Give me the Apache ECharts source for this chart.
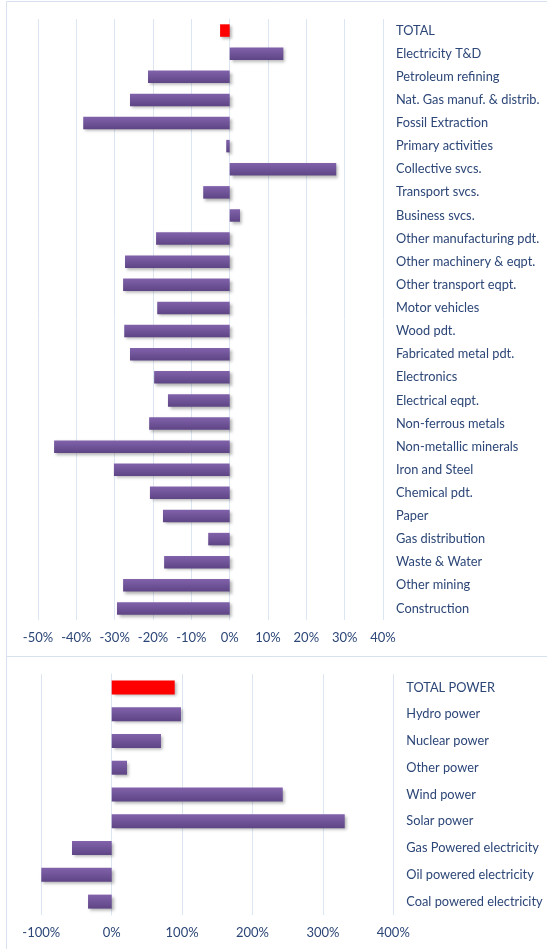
<!DOCTYPE html>
<html>
<head>
<meta charset="utf-8">
<script src="https://cdn.jsdelivr.net/npm/echarts@6/dist/echarts.min.js"></script>
<style>html,body{margin:0;padding:0;background:#fff;}#c{width:547px;height:949px;}</style>
</head>
<body>
<div id="c"></div>
<script>
var sectorCategories = ["TOTAL","Electricity T&D","Petroleum refining","Nat. Gas manuf. & distrib.","Fossil Extraction","Primary activities","Collective svcs.","Transport svcs.","Business svcs.","Other manufacturing pdt.","Other machinery & eqpt.","Other transport eqpt.","Motor vehicles","Wood pdt.","Fabricated metal pdt.","Electronics","Electrical eqpt.","Non-ferrous metals","Non-metallic minerals","Iron and Steel","Chemical pdt.","Paper","Gas distribution","Waste & Water","Other mining","Construction"];
var sectorValues = [-2.5,14,-21.3,-26,-38.2,-0.9,27.8,-6.9,2.7,-19.2,-27.3,-27.8,-18.9,-27.5,-26,-19.7,-16.1,-21,-45.8,-30.2,-20.8,-17.4,-5.6,-17.1,-27.8,-29.4];
var sectorTicks = [-50,-40,-30,-20,-10,0,10,20,30,40];

var powerCategories = ["TOTAL POWER","Hydro power","Nuclear power","Other power","Wind power","Solar power","Gas Powered electricity","Oil powered electricity","Coal powered electricity"];
var powerValues = [89.5,98.4,70,21.7,243,331,-56.4,-100,-33.6];
var powerTicks = [-100,0,100,200,300,400];

var purple = new echarts.graphic.LinearGradient(0,0,0,1,[{offset:0,color:'#8162ab'},{offset:1,color:'#5e4585'}]);
var labelColor = '#2c4677';
var gridColor = '#dce6f3';
var font = 'Lato, "Open Sans", sans-serif';

function buildData(vals){
  return vals.map(function(v,i){
    return {value:v, itemStyle: i===0 ? {color:'#ff0000'} : {color:purple}};
  });
}

var chart = echarts.init(document.getElementById('c'), null, {renderer:'canvas'});
chart.setOption({
  animation:false,
  graphic:[
    {type:'rect', shape:{x:6.5,y:1.5,width:600,height:655}, style:{fill:'none',stroke:'#d7e1f0',lineWidth:1}, silent:true},
    {type:'rect', shape:{x:6.5,y:656.5,width:600,height:400}, style:{fill:'none',stroke:'#d7e1f0',lineWidth:1}, silent:true}
  ],
  grid:[
    {left:38, right:164, top:19, height:601},
    {left:41.3, right:153.7, top:674, height:241}
  ],
  xAxis:[
    {gridIndex:0, type:'value', min:sectorTicks[0], max:sectorTicks[sectorTicks.length-1], interval:10,
     axisLine:{show:false}, axisTick:{show:false},
     splitLine:{lineStyle:{color:gridColor,width:1}},
     axisLabel:{formatter:function(v){return v+'%';}, color:labelColor, fontFamily:font, fontSize:13, margin:11}},
    {gridIndex:1, type:'value', min:powerTicks[0], max:powerTicks[powerTicks.length-1], interval:100,
     axisLine:{show:false}, axisTick:{show:false},
     splitLine:{lineStyle:{color:gridColor,width:1}},
     axisLabel:{formatter:function(v){return v+'%';}, color:labelColor, fontFamily:font, fontSize:13, margin:11}}
  ],
  yAxis:[
    {gridIndex:0, type:'category', data:sectorCategories, inverse:true, position:'right',
     axisLine:{show:true, lineStyle:{color:gridColor}}, axisTick:{show:false},
     axisLabel:{color:labelColor, fontFamily:font, fontSize:12.8, margin:13}},
    {gridIndex:1, type:'category', data:powerCategories, inverse:true, position:'right',
     axisLine:{show:true, lineStyle:{color:gridColor}}, axisTick:{show:false},
     axisLabel:{color:labelColor, fontFamily:font, fontSize:12.8, margin:13}}
  ],
  series:[
    {type:'bar', xAxisIndex:0, yAxisIndex:0, data:buildData(sectorValues), barWidth:12.5,
     itemStyle:{shadowColor:'rgba(0,0,0,0.3)', shadowBlur:3, shadowOffsetX:2, shadowOffsetY:2}},
    {type:'bar', xAxisIndex:1, yAxisIndex:1, data:buildData(powerValues), barWidth:14,
     itemStyle:{shadowColor:'rgba(0,0,0,0.3)', shadowBlur:3, shadowOffsetX:2, shadowOffsetY:2}}
  ]
});
</script>
</body>
</html>
